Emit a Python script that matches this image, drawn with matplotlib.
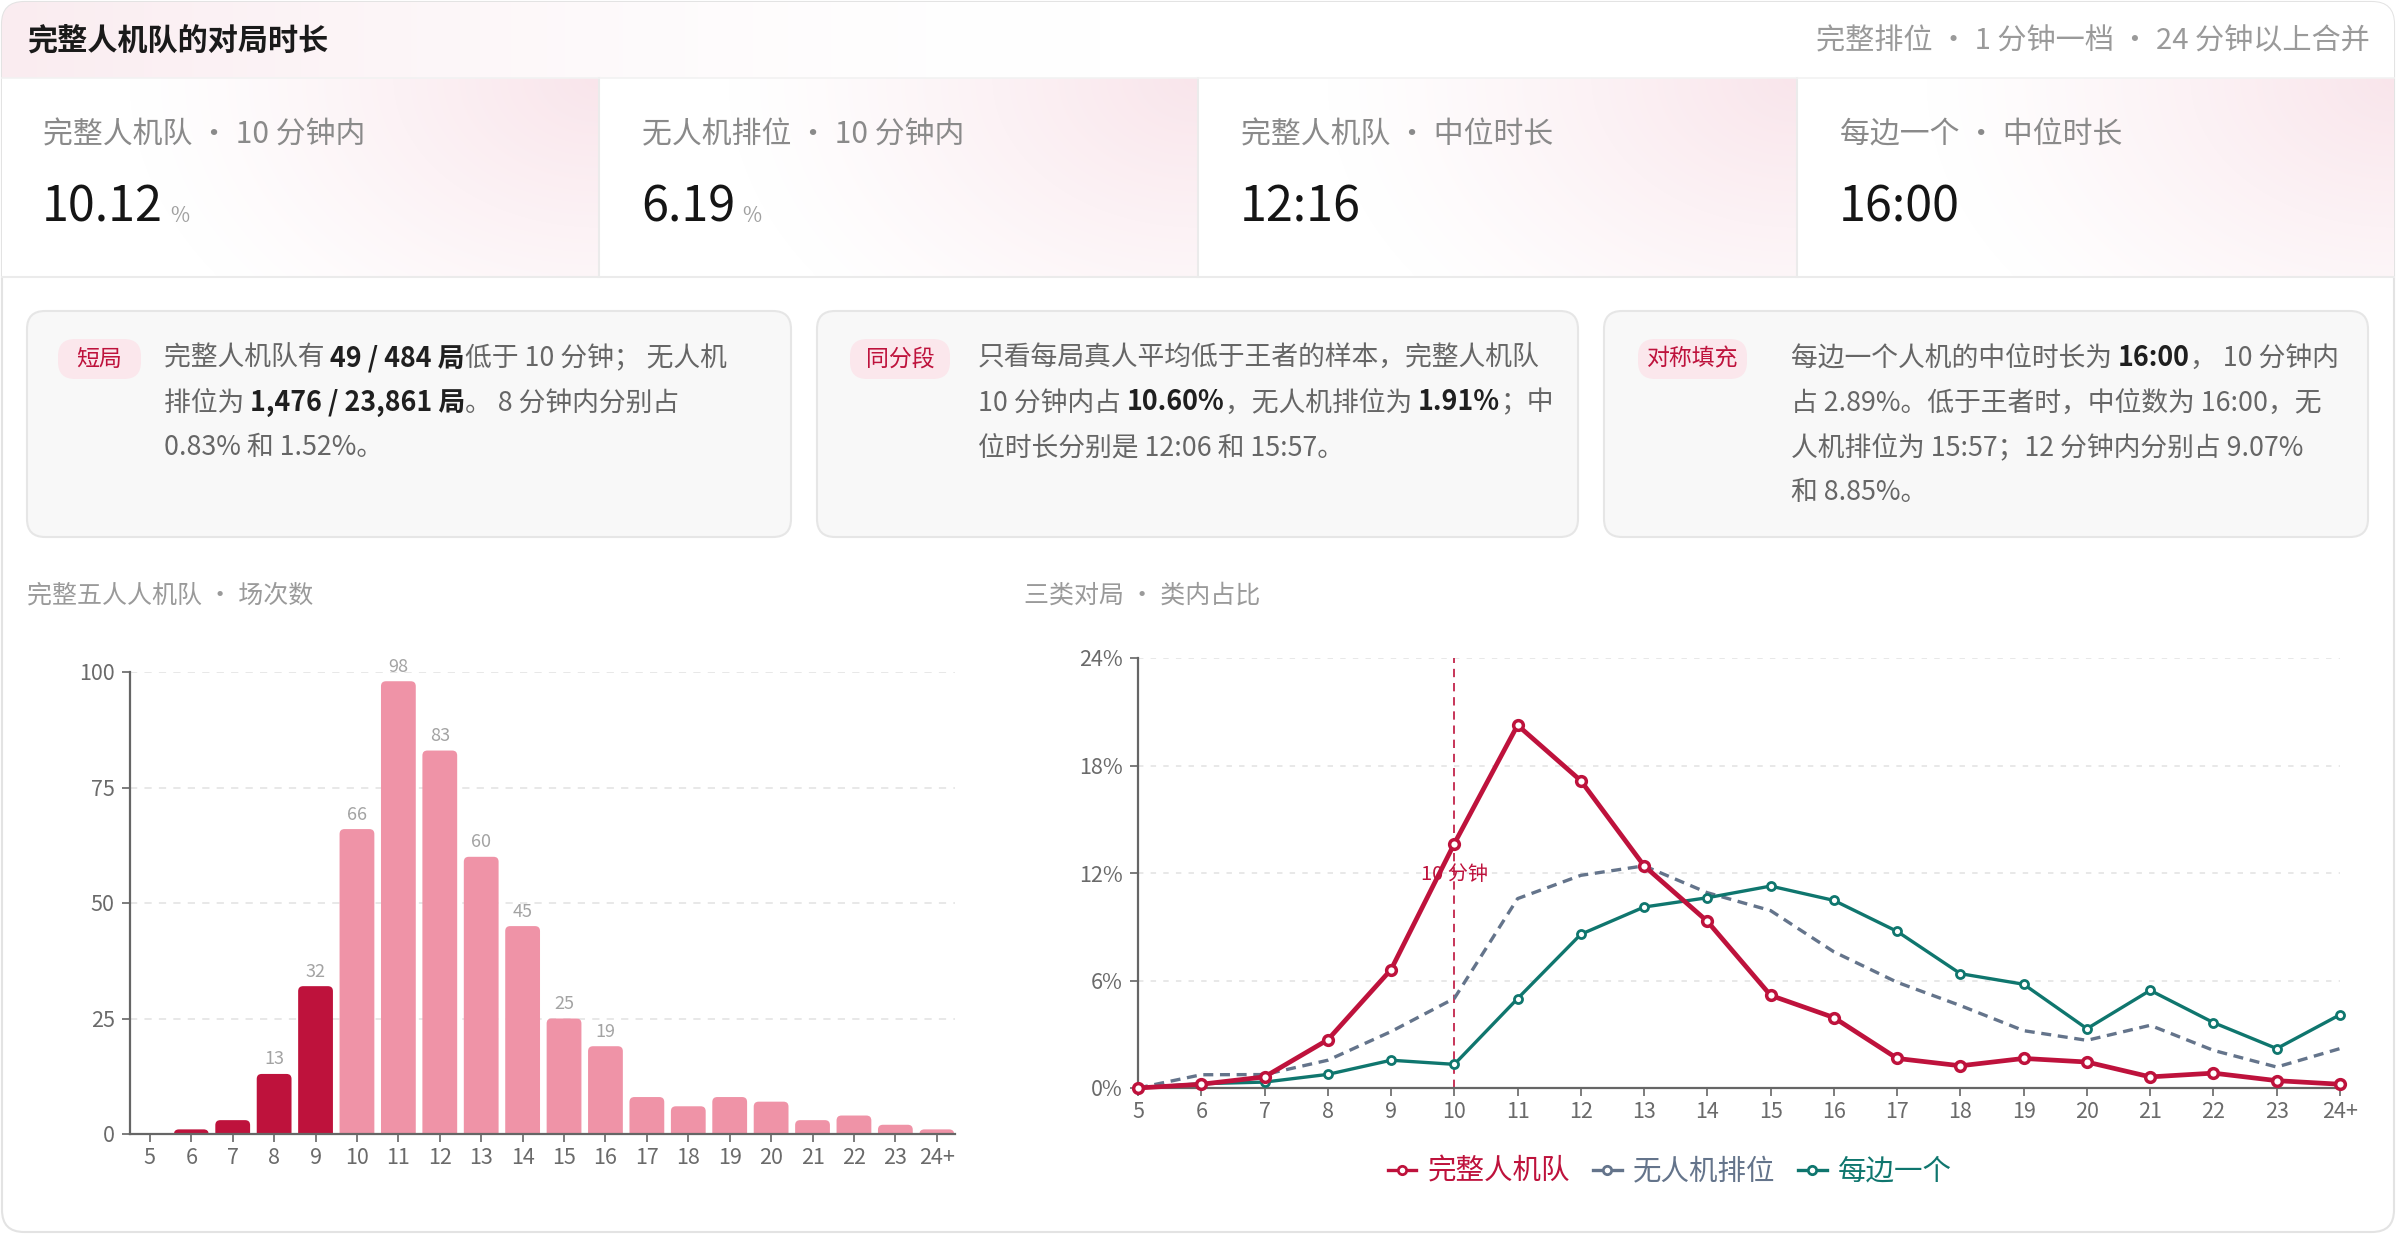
import numpy as np
import matplotlib.pyplot as plt
from matplotlib.patches import FancyBboxPatch
from matplotlib.lines import Line2D

plt.rcParams['font.family'] = ['Noto Sans CJK SC', 'DejaVu Sans']

# 数据
bins = ['5', '6', '7', '8', '9', '10', '11', '12', '13', '14', '15', '16',
        '17', '18', '19', '20', '21', '22', '23', '24+']
games = [0, 1, 3, 13, 32, 66, 98, 83, 60, 45, 25, 19, 8, 6, 8, 7, 3, 4, 2, 1]
pct_full = [0, 0.21, 0.62, 2.69, 6.61, 13.64, 20.25, 17.15, 12.40, 9.30,
            5.17, 3.93, 1.65, 1.24, 1.65, 1.45, 0.62, 0.83, 0.41, 0.21]
pct_nobot = [0, 0.74, 0.75, 1.55, 3.15, 5.0, 10.57, 11.87, 12.4, 10.9,
             9.9, 7.6, 5.9, 4.6, 3.2, 2.66, 3.5, 2.1, 1.17, 2.2]
pct_each = [0, 0.24, 0.33, 0.76, 1.55, 1.32, 4.99, 8.58, 10.1, 10.62,
            11.27, 10.47, 8.74, 6.38, 5.79, 3.31, 5.45, 3.65, 2.2, 4.09]
series_names = ['完整人机队', '无人机排位', '每边一个']
cut_idx = 5  # 10 分钟的位置

kpi_labels = ['完整人机队 · 10 分钟内', '无人机排位 · 10 分钟内',
              '完整人机队 · 中位时长', '每边一个 · 中位时长']
kpi_values = ['10.12', '6.19', '12:16', '16:00']
kpi_units = ['%', '%', '', '']

card_tags = ['短局', '同分段', '对称填充']
card_lines = [
    [[('完整人机队有 ', 0), ('49 / 484 局', 1), ('低于 10 分钟； 无人机', 0)],
     [('排位为 ', 0), ('1,476 / 23,861 局', 1), ('。 8 分钟内分别占', 0)],
     [('0.83% 和 1.52%。', 0)]],
    [[('只看每局真人平均低于王者的样本，完整人机队', 0)],
     [('10 分钟内占 ', 0), ('10.60%', 1), ('，无人机排位为 ', 0), ('1.91%', 1), ('；中', 0)],
     [('位时长分别是 12:06 和 15:57。', 0)]],
    [[('每边一个人机的中位时长为 ', 0), ('16:00', 1), ('， 10 分钟内', 0)],
     [('占 2.89%。低于王者时，中位数为 16:00，无', 0)],
     [('人机排位为 15:57；12 分钟内分别占 9.07%', 0)],
     [('和 8.85%。', 0)]],
]

CRIMSON = '#be123c'
PINK = '#ef93a7'
SLATE = '#64748b'
TEAL = '#0f766e'

W, H = 2396, 1234
fig = plt.figure(figsize=(W / 100, H / 100), dpi=100, facecolor='white')
bg = fig.add_axes([0, 0, 1, 1])
bg.axis('off')

# 外框
card = FancyBboxPatch((2, 2), W - 4, H - 4, boxstyle='round,pad=0,rounding_size=22',
                      fc='white', ec='#e3e3e3', lw=1.5, zorder=0)
bg.add_patch(card)

# 标题栏渐变
hx = np.arange(W)
t = np.clip(1 - hx / 1100, 0, 1) ** 1.6
pink_h = np.array([250, 236, 240]) / 255
row = (1 - t)[:, None] * 1 + t[:, None] * pink_h
img = np.repeat(row[None, :, :], 78, axis=0)
im = bg.imshow(img, extent=(0, W, 78, 0), aspect='auto', zorder=1, interpolation='bilinear')
im.set_clip_path(card)

# KPI 渐变
cw = W / 4
pink_k = np.array([249, 229, 235]) / 255
for i in range(4):
    x0 = i * cw
    xx, yy = np.meshgrid(np.arange(int(cw)), np.arange(199))
    d = np.sqrt(((cw - xx) / 470) ** 2 + (yy / 340) ** 2)
    tt = np.clip(1 - d, 0, 1) ** 1.2
    g = (1 - tt)[..., None] + tt[..., None] * pink_k
    im = bg.imshow(g, extent=(x0, x0 + cw, 277, 78), aspect='auto', zorder=1,
                   interpolation='bilinear')
    im.set_clip_path(card)
    if i > 0:
        bg.plot([x0, x0], [78, 277], color='#ebebeb', lw=1.5, zorder=2)
bg.plot([2, W - 2], [78, 78], color='#f2f2f2', lw=1.2, zorder=2)
bg.plot([2, W - 2], [277, 277], color='#ebebeb', lw=1.5, zorder=2)

bg.set_xlim(0, W)
bg.set_ylim(H, 0)

bg.text(27, 41, '完整人机队的对局时长', fontsize=21.7, fontweight='bold',
        color='#1a1a1a', va='center', zorder=3)
bg.text(2370, 41, '完整排位 · 1 分钟一档 · 24 分钟以上合并', fontsize=21,
        color='#9a9a9a', va='center', ha='right', zorder=3)

for i in range(4):
    x0 = i * cw
    bg.text(x0 + 43, 135, kpi_labels[i], fontsize=21.5, color='#8a8a8a', va='center', zorder=3)
    vt = bg.text(x0 + 42, 222, kpi_values[i], fontsize=35, color='#151515',
                 va='baseline', zorder=3)
    if kpi_units[i]:
        bg.annotate(kpi_units[i], xy=(1, 222), xycoords=(vt, 'data'), xytext=(5, 0),
                    textcoords='offset points', fontsize=15, color='#a0a0a0',
                    va='baseline', zorder=3)

# 说明卡片
card_x = [(27, 791), (817, 1578), (1604, 2368)]
pill_x = [(58, 141), (850, 950), (1638, 1747)]
body_x = [164, 978, 1791]
for k in range(3):
    a, b = card_x[k]
    bg.add_patch(FancyBboxPatch((a, 311), b - a, 226, boxstyle='round,pad=0,rounding_size=18',
                                fc='#f8f8f8', ec='#e6e6e6', lw=1.5, zorder=2))
    pa, pb = pill_x[k]
    bg.add_patch(FancyBboxPatch((pa, 339), pb - pa, 40, boxstyle='round,pad=0,rounding_size=17',
                                fc='#fbe7ec', ec='none', zorder=3))
    bg.text((pa + pb) / 2, 359, card_tags[k], fontsize=16.5, color=CRIMSON,
            ha='center', va='center', zorder=4)
    for j, line in enumerate(card_lines[k]):
        yb = 366 + j * 44.5
        prev = None
        for s, bold in line:
            kw = dict(fontsize=19.3, color='#1f1f1f' if bold else '#666666',
                      fontweight='bold' if bold else 'normal', va='baseline', zorder=4)
            if prev is None:
                prev = bg.text(body_x[k], yb, s, **kw)
            else:
                prev = bg.annotate(s, xy=(1, yb), xycoords=(prev, 'data'), **kw)

bg.text(27, 596, '完整五人人机队 · 场次数', fontsize=18, color='#9a9a9a', va='center')
bg.text(1024, 596, '三类对局 · 类内占比', fontsize=18, color='#9a9a9a', va='center')


def style_axes(ax):
    for s in ['top', 'right']:
        ax.spines[s].set_visible(False)
    for s in ['left', 'bottom']:
        ax.spines[s].set_color('#666666')
        ax.spines[s].set_linewidth(1.6)
    ax.tick_params(length=6, width=1.2, color='#666666', labelcolor='#6a6a6a',
                   labelsize=15.5)
    ax.tick_params(axis='x', pad=3)
    ax.tick_params(axis='y', pad=5)


# 柱状图
xb0, xb1 = -0.48, 19.44
axb = fig.add_axes([130 / W, 1 - 1134 / H, 825 / W, 462 / H], facecolor='none')
axb.set_xlim(xb0, xb1)
axb.set_ylim(0, 100)
x = np.arange(len(bins))
pxx = 825 / (xb1 - xb0)
pxy = 462 / 100
for i, v in enumerate(games):
    if v <= 0:
        continue
    col = CRIMSON if i < cut_idx else PINK
    axb.add_patch(FancyBboxPatch((i - 0.42, -5), 0.84, v + 5,
                                 boxstyle='round,pad=0,rounding_size=0.12',
                                 mutation_aspect=pxx / pxy, fc=col, ec='none', zorder=2))
    if v >= 10:
        axb.annotate(str(v), xy=(i, v), xytext=(0, 4), textcoords='offset points',
                     ha='center', va='bottom', fontsize=13, color='#a3a3a3')
axb.set_yticks([0, 25, 50, 75, 100])
axb.set_xticks(x)
axb.set_xticklabels(bins)
axb.grid(axis='y', color='#e6e6e6', lw=1.3, ls=(0, (4, 4)), zorder=1)
axb.set_axisbelow(True)
style_axes(axb)

# 折线图
axl = fig.add_axes([1138 / W, 1 - 1088 / H, 1202 / W, 430 / H], facecolor='none')
axl.set_xlim(0, 19)
axl.set_ylim(0, 24)
axl.grid(axis='y', color='#e6e6e6', lw=1.3, ls=(0, (3, 4)), zorder=0)
axl.set_axisbelow(True)
axl.axvline(cut_idx, color=CRIMSON, lw=1.2, ls=(0, (5, 3.5)), zorder=2)
axl.text(cut_idx, 11.9, '10 分钟', color=CRIMSON, ha='center', va='center', fontsize=14.5,
         zorder=2)
axl.plot(x, pct_nobot, color=SLATE, lw=2.4, ls=(0, (3, 2)), zorder=3, clip_on=False)
axl.plot(x, pct_each, color=TEAL, lw=2.4, marker='o', ms=5.8, mfc='white', mew=2.0,
         zorder=4, clip_on=False)
axl.plot(x, pct_full, color=CRIMSON, lw=3.4, marker='o', ms=7, mfc='white', mew=2.5,
         zorder=5, clip_on=False)
axl.set_xticks(x)
axl.set_xticklabels(bins)
axl.set_yticks([0, 6, 12, 18, 24])
axl.set_yticklabels(['0%', '6%', '12%', '18%', '24%'])
style_axes(axl)

handles = [Line2D([], [], color=c, lw=2.4, marker='o', ms=6, mfc='white', mew=2.0)
           for c in [CRIMSON, SLATE, TEAL]]
leg = fig.legend(handles, series_names, loc='center', bbox_to_anchor=(1670 / W, 1 - 1172 / H),
                 ncol=3, frameon=False, fontsize=20.5, handlelength=1.0, handletextpad=0.4,
                 columnspacing=0.8)
for txt, c in zip(leg.get_texts(), [CRIMSON, SLATE, TEAL]):
    txt.set_color(c)

fig.savefig('out.png', dpi=100, facecolor='white')
